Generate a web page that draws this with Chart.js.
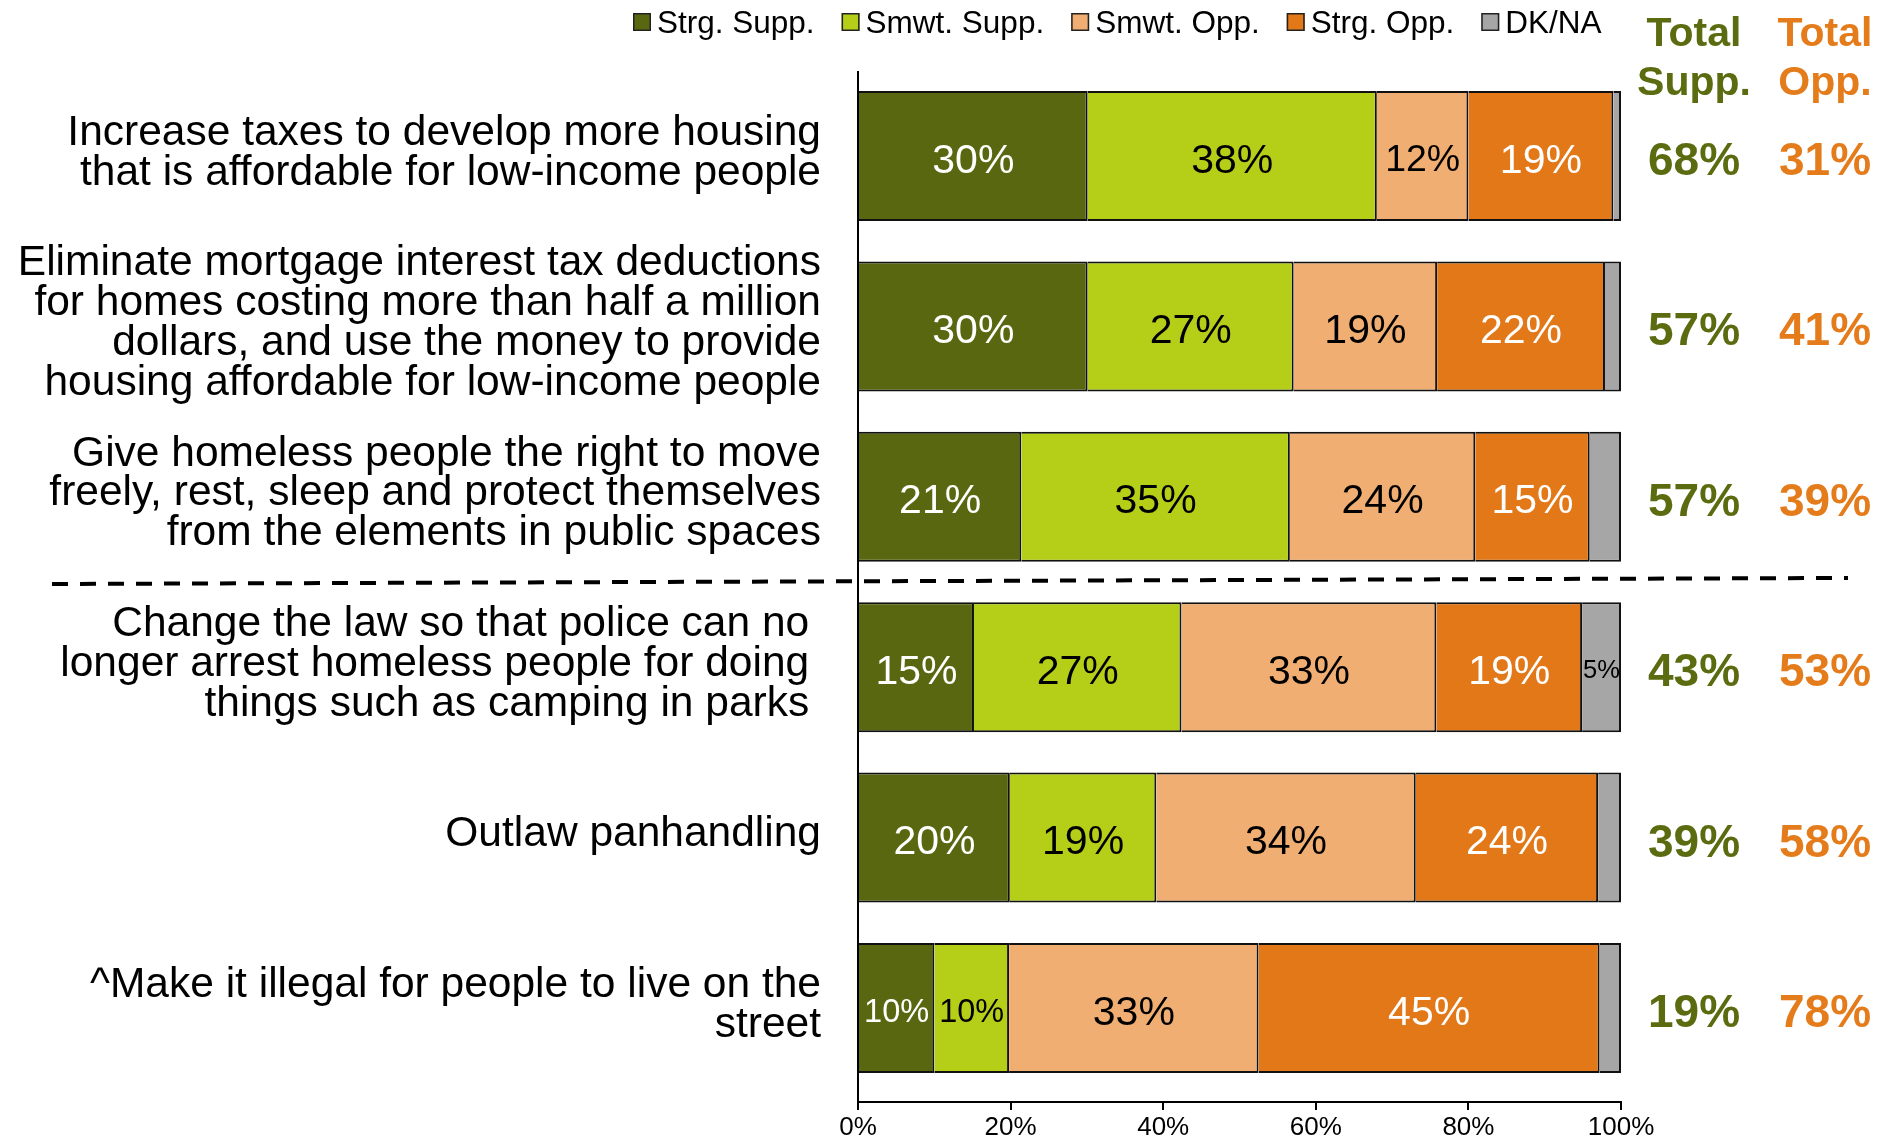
<!DOCTYPE html>
<html lang="en">
<head>
<meta charset="UTF-8" />
<title>Support for housing and homelessness policies</title>
<script src="https://cdn.jsdelivr.net/npm/chart.js"></script>
<style>
  html, body { margin: 0; background: #fff; }
  #wrap { width: 1894px; height: 1136px; position: relative; }
</style>
</head>
<body>
<div id="wrap"><canvas id="policyChart"></canvas></div>

<script>
  // questions (multi-line labels), top to bottom
  const questions = [
    ["Increase taxes to develop more housing", "that is affordable for low-income people"],
    ["Eliminate mortgage interest tax deductions", "for homes costing more than half a million", "dollars, and use the money to provide", "housing affordable for low-income people"],
    ["Give homeless people the right to move", "freely, rest, sleep and protect themselves", "from the elements in public spaces"],
    ["Change the law so that police can no ", "longer arrest homeless people for doing ", "things such as camping in parks "],
    ["Outlaw panhandling"],
    ["^Make it illegal for people to live on the", "street"]
  ];

  // percentages
  const strgSupp = [30.1, 30.1, 21.4, 15.2, 19.9, 10.0];
  const smwtSupp = [37.9, 27.0, 35.2, 27.2, 19.2, 9.8];
  const smwtOpp  = [12.0, 18.8, 24.3, 33.4, 34.0, 32.7];
  const strgOpp  = [19.0, 22.0, 15.0, 19.1, 23.9, 44.7];
  const dkNa     = [1.0, 2.1, 4.1, 5.1, 3.0, 2.8];

  const totalSupp = [68, 57, 57, 43, 39, 19];
  const totalOpp  = [31, 41, 39, 53, 58, 78];

  const xTicks = [0, 20, 40, 60, 80, 100];

  const FONT = "'Liberation Sans', Arial, sans-serif";
  const GREEN_TXT = "#5b6b10";
  const ORANGE_TXT = "#e47c1c";

  const toPoints = arr => arr.map((v, i) => ({ x: v, y: i }));

  const series = [
    { label: "Strg. Supp.", data: strgSupp, color: "#596810", text: "#fff" },
    { label: "Smwt. Supp.", data: smwtSupp, color: "#b5cf18", text: "#000" },
    { label: "Smwt. Opp.",  data: smwtOpp,  color: "#f0ae72", text: "#000" },
    { label: "Strg. Opp.",  data: strgOpp,  color: "#e27818", text: "#fff" },
    { label: "DK/NA",       data: dkNa,     color: "#a6a6a6", text: "#000" }
  ];

  // labels inside bars, totals on the right, legend and the dashed divider
  const extras = {
    id: "extras",
    afterDatasetsDraw(chart) {
      const ctx = chart.ctx;
      ctx.save();
      ctx.textAlign = "center";
      ctx.textBaseline = "alphabetic";
      chart.data.datasets.forEach((ds, d) => {
        const meta = chart.getDatasetMeta(d);
        meta.data.forEach((bar, i) => {
          const v = ds.data[i].x;
          if (v < 4.5) return;
          const txt = Math.round(v) + "%";
          const seg = Math.abs(bar.x - bar.base);
          let fs = 41;
          ctx.font = fs + "px " + FONT;
          const w = ctx.measureText(txt).width;
          const target = Math.min(seg * 0.95, seg * 0.6 + 20);
          if (w > target) fs = fs * target / w;
          ctx.font = fs + "px " + FONT;
          ctx.fillStyle = series[d].text;
          ctx.fillText(txt, (bar.x + bar.base) / 2, bar.y + fs * 0.358 + 2);
        });
      });
      ctx.restore();
    },
    afterDraw(chart) {
      const ctx = chart.ctx;
      const y = chart.scales.y;
      ctx.save();

      // dashed divider between the two groups of questions
      const yMid = y.getPixelForValue(2.5);
      ctx.setLineDash([16, 12]);
      ctx.lineWidth = 4;
      ctx.strokeStyle = "#000";
      ctx.beginPath();
      ctx.moveTo(52, yMid + 2);
      ctx.lineTo(1848, yMid - 4);
      ctx.stroke();
      ctx.setLineDash([]);

      // legend
      let lx = 633;
      ctx.textAlign = "left";
      ctx.textBaseline = "alphabetic";
      ctx.font = "31.5px " + FONT;
      chart.data.datasets.forEach(ds => {
        ctx.fillStyle = ds.backgroundColor;
        ctx.fillRect(lx, 13, 18, 18);
        ctx.strokeStyle = "#222";
        ctx.lineWidth = 1.5;
        ctx.strokeRect(lx + 0.75, 13.75, 16.5, 16.5);
        ctx.fillStyle = "#000";
        ctx.fillText(ds.label, lx + 24, 33);
        lx += 24 + ctx.measureText(ds.label).width + 27;
      });

      // total columns
      const colSupp = 1694, colOpp = 1825;
      ctx.textAlign = "center";
      ctx.font = "bold 41px " + FONT;
      ctx.fillStyle = GREEN_TXT;
      ctx.fillText("Total", colSupp, 46);
      ctx.fillText("Supp.", colSupp, 95);
      ctx.fillStyle = ORANGE_TXT;
      ctx.fillText("Total", colOpp, 46);
      ctx.fillText("Opp.", colOpp, 95);

      ctx.font = "bold 46px " + FONT;
      totalSupp.forEach((v, i) => {
        const py = y.getPixelForValue(i) + 19;
        ctx.fillStyle = GREEN_TXT;
        ctx.fillText(v + "%", colSupp, py);
        ctx.fillStyle = ORANGE_TXT;
        ctx.fillText(totalOpp[i] + "%", colOpp, py);
      });
      ctx.restore();
    }
  };

  new Chart(document.getElementById("policyChart"), {
    type: "bar",
    data: {
      datasets: series.map(s => ({
        label: s.label,
        data: toPoints(s.data),
        backgroundColor: s.color,
        borderColor: "#111",
        borderWidth: 2,
        borderSkipped: "start",
        barPercentage: 0.763,
        categoryPercentage: 1
      }))
    },
    options: {
      indexAxis: "y",
      responsive: true,
      maintainAspectRatio: false,
      animation: false,
      events: [],
      layout: { padding: { top: 72, right: 273, left: 0, bottom: 0 } },
      plugins: {
        legend: { display: false },
        tooltip: { enabled: false }
      },
      scales: {
        x: {
          type: "linear",
          stacked: true,
          min: xTicks[0],
          max: xTicks[xTicks.length - 1],
          afterBuildTicks: scale => { scale.ticks = xTicks.map(v => ({ value: v })); },
          afterFit: scale => { scale.height = 34; scale.paddingLeft = 0; scale.paddingRight = 0; },
          grid: { drawOnChartArea: false, drawTicks: true, tickLength: 8, color: "#000", lineWidth: 2 },
          border: { display: true, color: "#000", width: 2 },
          ticks: {
            padding: 2,
            color: "#000",
            font: { family: FONT, size: 26 },
            callback: v => v + "%"
          }
        },
        y: {
          type: "linear",
          stacked: true,
          reverse: true,
          offset: false,
          min: -0.493,
          max: 5.552,
          afterBuildTicks: scale => { scale.ticks = questions.map((q, i) => ({ value: i })); },
          afterFit: scale => { scale.width = 858; scale.paddingTop = 0; scale.paddingBottom = 0; },
          grid: { offset: false, drawOnChartArea: false, drawTicks: false },
          border: { display: true, color: "#000", width: 2 },
          ticks: {
            padding: 37,
            labelOffset: -3,
            color: "#000",
            font: { family: FONT, size: 42.5, lineHeight: 0.94 },
            callback: v => questions[v]
          }
        }
      }
    },
    plugins: [extras]
  });
</script>
</body>
</html>
